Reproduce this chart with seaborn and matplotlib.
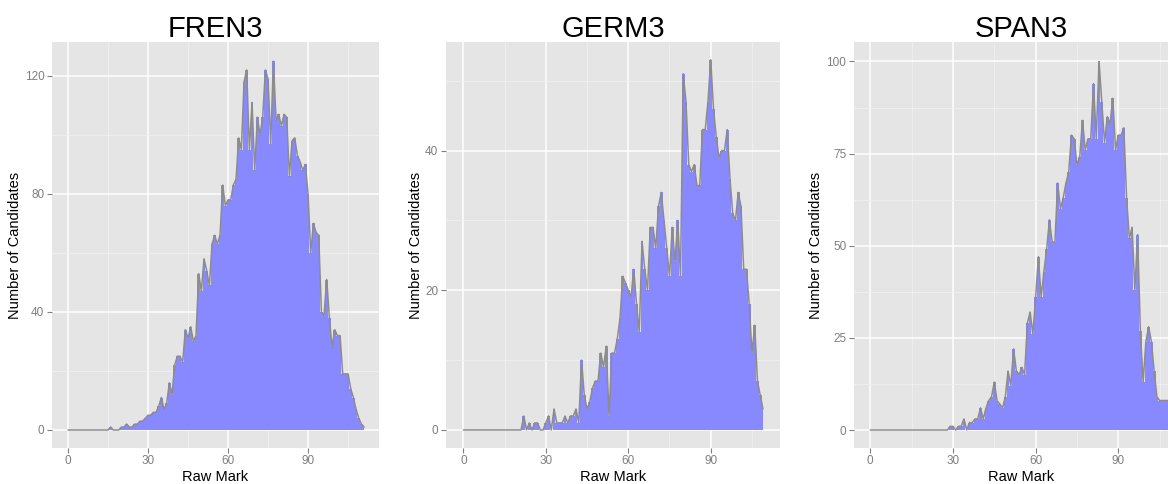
import matplotlib
matplotlib.use("Agg")
import matplotlib.pyplot as plt
import seaborn as sns
import pandas as pd

# ---- data (counts of candidates per raw mark, starting at mark 0) ----
fren3_counts = [0, 0, 0, 0, 0, 0, 0, 0, 0, 0, 0, 0, 0, 0, 0, 0,
                1, 0, 0, 0, 1, 1, 2, 1, 1, 2, 2, 3, 3, 4, 5, 5, 6, 6, 8, 11,
                7, 9, 16, 12, 22, 25, 25, 23, 34, 31, 35, 30, 32, 53, 47, 58, 54, 49, 63, 66,
                63, 66, 83, 76, 78, 78, 83, 85, 99, 95, 118, 122, 95, 111, 88, 106, 100, 106, 122, 119,
                97, 125, 105, 107, 103, 107, 106, 86, 98, 99, 93, 91, 88, 90, 80, 60, 70, 67, 66, 40,
                39, 51, 38, 28, 34, 32, 32, 19, 19, 19, 14, 11, 7, 4, 2, 1]
germ3_counts = [0, 0, 0, 0, 0, 0, 0, 0, 0, 0, 0, 0, 0, 0, 0, 0, 0, 0, 0, 0, 0, 0,
                2, 0, 1, 0, 1, 1, 0, 0, 1, 2, 0, 3, 1, 1, 1, 2, 1, 2, 2, 3,
                1, 10, 5, 3, 4, 6, 7, 7, 11, 9, 12, 2, 11, 11, 13, 16, 22, 21, 20, 19,
                23, 18, 14, 27, 23, 20, 29, 29, 26, 32, 34, 30, 26, 22, 29, 24, 30, 22, 51, 47,
                38, 37, 38, 35, 35, 43, 43, 47, 53, 46, 42, 39, 40, 40, 43, 36, 31, 30, 34, 32,
                23, 23, 18, 11, 15, 7, 5, 3]
span3_counts = [0, 0, 0, 0, 0, 0, 0, 0, 0, 0, 0, 0, 0, 0, 0, 0, 0, 0, 0, 0, 0, 0, 0, 0, 0, 0, 0, 0, 0,
                1, 1, 0, 1, 1, 3, 0, 2, 2, 3, 3, 6, 3, 6, 8, 9, 13, 8, 7, 6,
                9, 16, 12, 22, 16, 15, 17, 15, 29, 32, 26, 36, 47, 36, 43, 49, 57, 51, 51, 67,
                60, 63, 67, 70, 80, 79, 72, 74, 84, 76, 79, 79, 94, 79, 100, 89, 78, 85, 83, 90,
                76, 80, 80, 82, 63, 52, 55, 38, 53, 27, 13, 24, 28, 24, 16, 9, 8, 8, 8, 8]

titles = ["FREN3", "GERM3", "SPAN3"]
x_ticks = [0, 30, 60, 90]
y_ticks = [[0, 40, 80, 120], [0, 20, 40], [0, 25, 50, 75, 100]]
y_minor = [[20, 60, 100], [10, 30, 50], [12.5, 37.5, 62.5, 87.5]]

series = [fren3_counts, germ3_counts, span3_counts]

sns.set_style("darkgrid", {"axes.facecolor": "#E5E5E5", "grid.color": "white"})
plt.rcParams["font.family"] = ["Liberation Sans", "DejaVu Sans"]

W, H = 1168, 484
fig = plt.figure(figsize=(W / 100, H / 100), dpi=100)

# panel geometry in pixels: left, right, top, bottom ; x-limits ; y-limits ; ylabel offset
panels = [
    (52, 379, 42.3, 447.7, (-6.0, 116.6), (-6.0, 131.4), 30),
    (446, 780, 42.3, 447.7, (-6.3, 115.2), (-2.54, 55.5), 23),
    (854, 1188.6, 42.3, 447.7, (-5.9, 115.5), (-4.8, 105.2), 31),
]

fill_color = "#8888FF"
line_color = "#8C8C8C"
tick_color = "#7F7F7F"

for i, (l, r, t, b, xl, yl, yoff) in enumerate(panels):
    ax = fig.add_axes([l / W, 1 - b / H, (r - l) / W, (b - t) / H])
    counts = series[i]
    df = pd.DataFrame({"mark": list(range(len(counts))), "count": counts})
    ax.fill_between(df["mark"], df["count"], 0, step="mid", color=fill_color, lw=0, zorder=2)
    sns.lineplot(data=df, x="mark", y="count", ax=ax, color=line_color, lw=1.1, zorder=3)
    ax.set_xlim(*xl)
    ax.set_ylim(*yl)
    ax.set_xticks(x_ticks)
    ax.set_xticks([15, 45, 75, 105], minor=True)
    ax.set_yticks(y_ticks[i])
    ax.set_yticks(y_minor[i], minor=True)
    ax.grid(which="major", color="white", lw=1.1, zorder=0)
    ax.grid(which="minor", color="#F2F2F2", lw=0.5, zorder=0)
    ax.set_axisbelow(True)
    for s in ax.spines.values():
        s.set_visible(False)
    ax.tick_params(which="major", length=3.5, width=0.8, color=tick_color,
                   labelcolor=tick_color, labelsize=8.5, pad=2, bottom=True, left=True)
    ax.tick_params(which="minor", length=0, bottom=False, left=False)
    ax.set_xlabel("Raw Mark", fontsize=10.5, color="black", labelpad=2)
    ax.set_ylabel("Number of Candidates", fontsize=10.5, color="black", labelpad=4)
    ax.set_title(titles[i], fontsize=21, color="black", pad=4)
    ax.yaxis.set_label_coords(-yoff / (r - l), 0.5)

fig.savefig("out.png", dpi=100)
